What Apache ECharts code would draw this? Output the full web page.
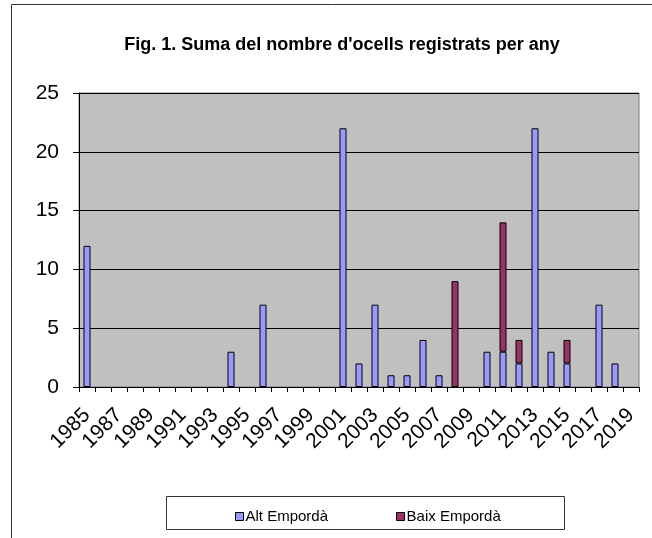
<!DOCTYPE html>
<html><head><meta charset="utf-8">
<script src="https://cdn.jsdelivr.net/npm/echarts@6/dist/echarts.min.js"></script>
<style>html,body{margin:0;padding:0;background:#fff}#c{width:652px;height:538px}</style>
</head><body><div id="c"></div>
<script>
const years = ["1985","1986","1987","1988","1989","1990","1991","1992","1993","1994","1995","1996","1997","1998","1999","2000","2001","2002","2003","2004","2005","2006","2007","2008","2009","2010","2011","2012","2013","2014","2015","2016","2017","2018","2019"];
const altEmporda = [12,0,0,0,0,0,0,0,0,3,0,7,0,0,0,0,22,2,7,1,1,4,1,0,0,3,3,2,22,3,2,0,7,2,0];
const baixEmporda = [0,0,0,0,0,0,0,0,0,0,0,0,0,0,0,0,0,0,0,0,0,0,0,9,0,0,11,2,0,0,2,0,0,0,0];
const yTicks = [0,5,10,15,20,25];
const toData = a => a.map(v => v === 0 ? null : v);
const chart = echarts.init(document.getElementById('c'));
const font = 'Arial, "Liberation Sans", sans-serif';
chart.setOption({
  animation:false,
  title:{text:"Fig. 1. Suma del nombre d'ocells registrats per any",left:337,top:31,textAlign:'center',
    textStyle:{fontFamily:font,fontSize:18,fontWeight:'bold',color:'#000'}},
  graphic:[
    {type:'line',shape:{x1:11.5,y1:4.5,x2:652,y2:4.5},style:{stroke:'#333',lineWidth:1}},
    {type:'line',shape:{x1:11.5,y1:4.5,x2:11.5,y2:538},style:{stroke:'#333',lineWidth:1}},
    {type:'rect',shape:{x:166.5,y:496.5,width:398,height:33},style:{fill:'none',stroke:'#333',lineWidth:1}}
  ],
  legend:{left:230,top:504,itemWidth:8,itemHeight:8,itemGap:68,icon:'rect',
    textStyle:{fontFamily:font,fontSize:15,color:'#000',padding:[0,0,0,-3]},
    data:[{name:'Alt Empordà',itemStyle:{borderColor:'#000',borderWidth:1}},{name:'Baix Empordà',itemStyle:{borderColor:'#000',borderWidth:1}}]},
  grid:{left:79,right:13,top:93,bottom:151,show:true,backgroundColor:'#C0C0C0',borderColor:'#808080',borderWidth:1},
  xAxis:{type:'category',data:years,
    axisLine:{lineStyle:{color:'#000',width:1}},
    axisTick:{show:true,interval:0,length:5,lineStyle:{color:'#000'}},
    axisLabel:{interval:1,rotate:45,fontFamily:font,fontSize:21,color:'#000',margin:25,padding:[0,0,0,0]}},
  yAxis:{type:'value',min:0,max:25,interval:5,
    axisLine:{show:true,lineStyle:{color:'#000',width:1}},
    axisTick:{show:true,length:6,lineStyle:{color:'#000'}},
    axisLabel:{fontFamily:font,fontSize:21,color:'#000',margin:20,
      formatter:v => yTicks.includes(v) ? String(v) : ''},
    splitLine:{lineStyle:{color:'#000',width:1}}},
  series:[
    {name:'Alt Empordà',type:'bar',stack:'t',barWidth:7,data:toData(altEmporda),
      itemStyle:{color:'#9999FF',borderColor:'#000',borderWidth:1}},
    {name:'Baix Empordà',type:'bar',stack:'t',barWidth:7,data:toData(baixEmporda),
      itemStyle:{color:'#993366',borderColor:'#000',borderWidth:1}}
  ]
});
</script></body></html>
